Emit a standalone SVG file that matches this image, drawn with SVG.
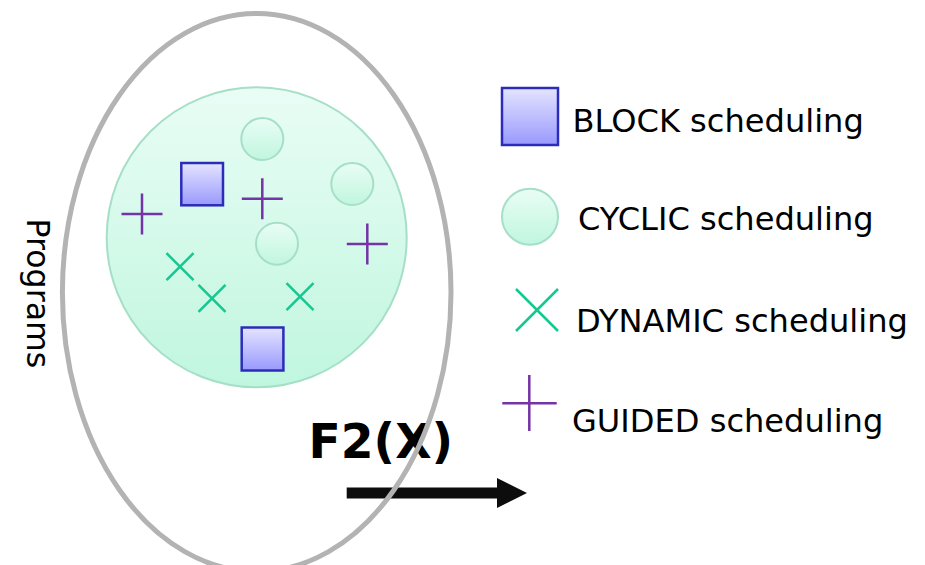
<svg xmlns="http://www.w3.org/2000/svg" width="925" height="565" viewBox="0 0 925 565">
  <style>
    .lbl { font-family: "DejaVu Sans", "Liberation Sans", sans-serif; font-size: 32.1px; fill: #000; }
    .title { font-family: "DejaVu Sans", "Liberation Sans", sans-serif; font-size: 47.2px; font-weight: bold; fill: #000; }
    .side { font-family: "DejaVu Sans", "Liberation Sans", sans-serif; font-size: 31.6px; fill: #000; }
    .block { fill: url(#gBlock); stroke: #2c2cba; stroke-width: 2.5; }
    .cyclic { fill: url(#gCyclic); stroke: #a6dfc7; stroke-width: 2; }
    .guided { stroke: #7534a6; stroke-width: 2.5; fill: none; }
    .dynamic { stroke: #14c890; stroke-width: 2.5; fill: none; }
    .outline { fill: none; stroke: #b3b3b3; stroke-width: 5; }
  </style>
  <defs>
    <linearGradient id="gBlock" x1="0" y1="0" x2="0" y2="1">
      <stop offset="0" stop-color="#e4e4ff"/>
      <stop offset="1" stop-color="#9999fd"/>
    </linearGradient>
    <linearGradient id="gCyclic" x1="0" y1="0" x2="0" y2="1">
      <stop offset="0" stop-color="#e9fdf5"/>
      <stop offset="1" stop-color="#c0f6df"/>
    </linearGradient>
    <symbol id="plus" overflow="visible">
      <path class="guided" d="M-20.5,0 H20.5 M0,-20.5 V20.5"/>
    </symbol>
    <symbol id="cross" overflow="visible">
      <path class="dynamic" d="M-13.5,-13.5 L13.5,13.5 M13.5,-13.5 L-13.5,13.5"/>
    </symbol>
    <marker id="head" viewBox="0 0 30 30" markerWidth="30" markerHeight="30" refX="0" refY="15" markerUnits="userSpaceOnUse" orient="auto">
      <path d="M0,0 L30,15 L0,30 Z" fill="#0d0d0d"/>
    </marker>
  </defs>

  <!-- pool of work items -->
  <g id="pool">
    <circle class="cyclic" cx="256.7" cy="237.3" r="150" stroke-width="1.5"/>
  </g>

  <g id="items">
    <circle id="cyc1" class="cyclic" cx="262.3" cy="139" r="21"/>
    <circle id="cyc2" class="cyclic" cx="352.3" cy="184" r="21"/>
    <circle id="cyc3" class="cyclic" cx="277" cy="243.7" r="21"/>
    <rect id="blk1" class="block" x="181.3" y="163" width="41.7" height="42.3"/>
    <rect id="blk2" class="block" x="241.7" y="327.5" width="41.7" height="43"/>
    <use id="gui1" href="#plus" x="142" y="214"/>
    <use id="gui2" href="#plus" x="262.3" y="198.7"/>
    <use id="gui3" href="#plus" x="367.3" y="244"/>
    <use id="dyn1" href="#cross" x="180" y="266.7"/>
    <use id="dyn2" href="#cross" x="212" y="298.3"/>
    <use id="dyn3" href="#cross" x="300" y="296.7"/>
  </g>

  <!-- legend -->
  <g id="legend-block">
    <rect class="block" x="502" y="88" width="56" height="57"/>
    <text class="lbl" x="572.5" y="131.7">BLOCK scheduling</text>
  </g>
  <g id="legend-cyclic">
    <circle class="cyclic" cx="530" cy="216.7" r="28"/>
    <text class="lbl" x="578" y="229.5">CYCLIC scheduling</text>
  </g>
  <g id="legend-dynamic">
    <path class="dynamic" d="M516,289 L558,331 M558,289 L516,331"/>
    <text class="lbl" x="576" y="331.7">DYNAMIC scheduling</text>
  </g>
  <g id="legend-guided">
    <path class="guided" d="M502.3,403.3 H556.7 M529.3,375 V431"/>
    <text class="lbl" x="572" y="431.7">GUIDED scheduling</text>
  </g>

  <!-- function label -->
  <g id="function">
    <text class="title" x="308.5" y="458.3">F2(X)</text>
  </g>

  <g id="connectors">
    <line x1="346.7" y1="493" x2="497" y2="493" stroke="#0d0d0d" stroke-width="11" marker-end="url(#head)"/>
  </g>

  <!-- program set outline -->
  <g id="programs">
    <ellipse class="outline" cx="256.7" cy="292.5" rx="194.3" ry="279"/>
    <text class="side" transform="translate(27,218.5) rotate(90)">Programs</text>
  </g>
</svg>
